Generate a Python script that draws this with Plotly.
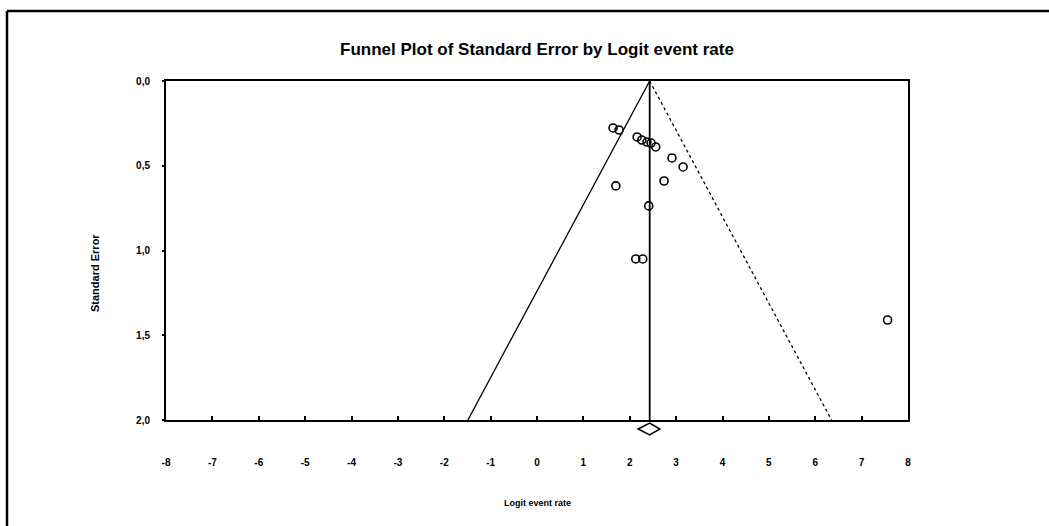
import plotly.graph_objects as go

# Study-level logit event rates and their standard errors
logit_rate = [1.64, 1.77, 2.16, 2.26, 2.37, 2.46, 2.56, 2.91, 3.15, 1.70, 2.74, 2.41, 2.13, 2.28, 7.56]
std_error = [0.277, 0.289, 0.330, 0.348, 0.360, 0.366, 0.389, 0.454, 0.507, 0.619, 0.590, 0.737, 1.05, 1.05, 1.41]

# Pooled estimate and its confidence limits (drawn as the diamond under the axis)
pooled = 2.43
pooled_lo = 2.18
pooled_hi = 2.65

x_ticks = list(range(-8, 9))
x_tick_text = [str(v) for v in x_ticks]
y_ticks = [0.0, 0.5, 1.0, 1.5, 2.0]
y_tick_text = ["0,0", "0,5", "1,0", "1,5", "2,0"]

se_max = 2.0
z = 1.96

FONT = "Arial, Liberation Sans, sans-serif"

fig = go.Figure()

# Funnel limits
fig.add_trace(go.Scatter(
    x=[pooled, pooled - z * se_max], y=[0, se_max], mode="lines",
    line=dict(color="black", width=1.3), hoverinfo="skip", showlegend=False))
fig.add_trace(go.Scatter(
    x=[pooled, pooled + z * se_max], y=[0, se_max], mode="lines",
    line=dict(color="black", width=1.3, dash="dot"), hoverinfo="skip", showlegend=False))
# Vertical line at the pooled estimate
fig.add_trace(go.Scatter(
    x=[pooled, pooled], y=[0, se_max], mode="lines",
    line=dict(color="black", width=1.8), hoverinfo="skip", showlegend=False))

# Studies
fig.add_trace(go.Scatter(
    x=logit_rate, y=std_error, mode="markers",
    marker=dict(symbol="circle-open", size=8, color="black", line=dict(width=1.6)),
    showlegend=False))

# Pixel geometry of the plot area, used to place paper-referenced decorations
W, H = 1049, 526
L, R, T, B = 166, 908, 81, 420
pw, ph = R - L, B - T


def px(x):
    return (x - L) / pw


def py(y):
    return (B - y) / ph


shapes = []
# Diamond for the pooled estimate below the x axis
d_top, d_mid, d_bot = py(423), py(429), py(435)
shapes.append(dict(
    type="path", xref="x", yref="paper",
    path=f"M {pooled_lo} {d_mid} L {pooled} {d_top} L {pooled_hi} {d_mid} L {pooled} {d_bot} Z",
    line=dict(color="black", width=1.5), fillcolor="rgba(0,0,0,0)"))
# Outer frame (top and left edges)
shapes.append(dict(type="line", xref="paper", yref="paper",
                   x0=px(7), x1=px(W + 5), y0=py(11), y1=py(11),
                   line=dict(color="black", width=2.5)))
shapes.append(dict(type="line", xref="paper", yref="paper",
                   x0=px(7), x1=px(7), y0=py(11), y1=py(H + 5),
                   line=dict(color="black", width=2.5)))

fig.update_layout(
    width=W, height=H,
    margin=dict(l=L, r=W - R, t=T, b=H - B),
    paper_bgcolor="white", plot_bgcolor="white",
    font=dict(family=FONT, color="black"),
    shapes=shapes,
    annotations=[
        dict(text="<b>Funnel Plot of Standard Error by Logit event rate</b>",
             xref="paper", yref="paper", x=0.5, y=py(50), showarrow=False,
             font=dict(size=17, family=FONT), xanchor="center", yanchor="middle"),
        dict(text="<b>Logit event rate</b>",
             xref="paper", yref="paper", x=0.5, y=py(503), showarrow=False,
             font=dict(size=9, family=FONT), xanchor="center", yanchor="middle"),
        dict(text="<b>Standard Error</b>",
             xref="paper", yref="paper", x=px(95), y=py(273), showarrow=False,
             textangle=-90,
             font=dict(size=11, family=FONT), xanchor="center", yanchor="middle"),
    ],
)

fig.update_xaxes(
    range=[-8, 8], tickvals=x_ticks, ticktext=[f"<b>{t}</b>" for t in x_tick_text],
    showgrid=False, zeroline=False,
    showline=True, linecolor="black", linewidth=2, mirror=True,
    ticks="inside", ticklen=4, tickwidth=1.5, tickcolor="black",
    ticklabelstandoff=32, tickfont=dict(size=10, family=FONT),
)
fig.update_yaxes(
    range=[2.0, 0.0], tickvals=y_ticks, ticktext=[f"<b>{t}</b>" for t in y_tick_text],
    showgrid=False, zeroline=False,
    showline=True, linecolor="black", linewidth=2, mirror=True,
    ticks="outside", ticklen=2, tickwidth=1.5, tickcolor="black",
    ticklabelstandoff=10, tickfont=dict(size=10, family=FONT),
)

fig.write_html("out.html")
